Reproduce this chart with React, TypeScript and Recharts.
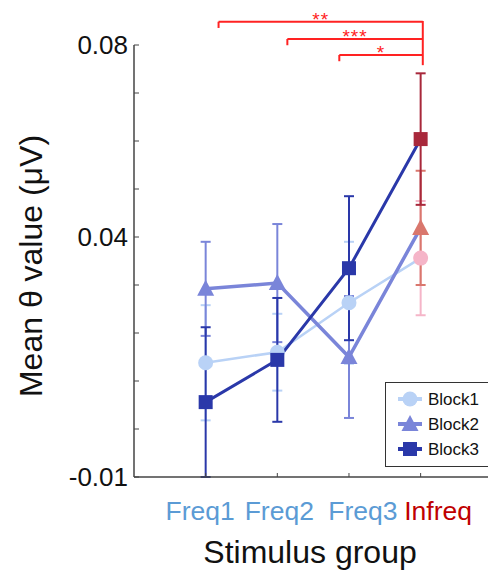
import React from 'react';
import {
  ComposedChart,
  Line,
  Scatter,
  ErrorBar,
  XAxis,
  YAxis,
  Legend,
  ReferenceLine,
  ReferenceDot,
} from 'recharts';

const categories = ['Freq1', 'Freq2', 'Freq3', 'Infreq'];
const xPositions = [1, 2, 3, 4];

const block1Mean = [0.0138, 0.016, 0.0263, 0.0356];
const block1Err = [0.012, 0.008, 0.0127, 0.0119];
const block2Mean = [0.0292, 0.0304, 0.015, 0.0419];
const block2Err = [0.0098, 0.0123, 0.0127, 0.0119];
const block3Mean = [0.0056, 0.0144, 0.0335, 0.0604];
const block3Err = [0.0156, 0.0129, 0.015, 0.0137];

const yTicks = [-0.01, 0, 0.01, 0.02, 0.03, 0.04, 0.05, 0.06, 0.07, 0.08];
const yLabeled = [-0.01, 0.04, 0.08];

// significance brackets (Infreq vs each Freq)
const bracketStarts = [1.18, 2.14, 2.865];
const bracketLevels = [0.08485, 0.08125, 0.07792];
const bracketLabels = ['**', '***', '*'];
const bracketEnd = 4.03;
const bracketTop = 0.085;
const bracketBottom = 0.0758;

const FONT = '"Liberation Sans", Arial, sans-serif';
const RED = '#ff2222';

const blocks = [
  { name: 'Block1', mean: block1Mean, err: block1Err, color: '#b9d2f6', infreq: '#f5b5c8', shape: 'circle', width: 2.5 },
  { name: 'Block2', mean: block2Mean, err: block2Err, color: '#7a85d9', infreq: '#d9776d', shape: 'triangle', width: 3.5 },
  { name: 'Block3', mean: block3Mean, err: block3Err, color: '#2a38a9', infreq: '#a8283b', shape: 'square', width: 3 },
];

const toPoints = (mean: number[], err: number[]) =>
  mean.map((y, i) => ({ x: xPositions[i], y, err: err[i] }));

function Marker({ cx, cy, shape, fill }: any) {
  if (cx == null || cy == null) return null;
  if (shape === 'circle') return <circle cx={cx} cy={cy} r={7.5} fill={fill} />;
  if (shape === 'triangle')
    return <polygon points={`${cx},${cy - 9} ${cx - 8.5},${cy + 7} ${cx + 8.5},${cy + 7}`} fill={fill} />;
  return <rect x={cx - 7} y={cy - 7} width={14} height={14} fill={fill} />;
}

const YTick = (props: any) => {
  const { x, y, payload } = props;
  const ax = x + 8;
  const v = payload.value;
  const show = yLabeled.some((t) => Math.abs(t - v) < 1e-9);
  return (
    <g>
      <line x1={ax} x2={ax + 5} y1={y} y2={y} stroke="#444" strokeWidth={1} />
      {show && (
        <text x={ax - 6} y={y} dy="0.35em" textAnchor="end" fontSize={26} fill="#111" fontFamily={FONT}>
          {v === 0.08 ? '0.08' : v === 0.04 ? '0.04' : '-0.01'}
        </text>
      )}
    </g>
  );
};

// the category labels are spread a little wider than the ticks in the original
const labelShift = [-5.5, 2, 14, 17.5];

const XTick = (props: any) => {
  const { x, y, payload } = props;
  const ay = y - 8;
  const idx = payload.value - 1;
  const label = categories[idx];
  return (
    <g>
      <line x1={x} x2={x} y1={ay} y2={ay - 4} stroke="#444" strokeWidth={1} />
      <text
        x={x + (labelShift[idx] || 0)}
        y={ay + 43}
        textAnchor="middle"
        fontSize={26.5}
        fill={label === 'Infreq' ? '#c00000' : '#5b9bd5'}
        fontFamily={FONT}
      >
        {label}
      </text>
    </g>
  );
};

const LegendBox = () => (
  <svg width={110} height={86}>
    <rect x={0.5} y={0.5} width={109} height={84} fill="#fff" stroke="#333" strokeWidth={1} />
    {blocks.map((b, i) => {
      const yy = 17 + i * 25;
      return (
        <g key={b.name}>
          <line x1={13} x2={37} y1={yy} y2={yy} stroke={b.color} strokeWidth={4} />
          <Marker cx={25} cy={yy} shape={b.shape} fill={b.color} />
          <text x={43} y={yy + 6} fontSize={17} fill="#111" fontFamily={FONT}>
            {b.name}
          </text>
        </g>
      );
    })}
  </svg>
);

export default function App() {
  return (
    <div style={{ position: 'absolute', left: 0, top: 0, width: 488, height: 574, overflow: 'hidden', background: '#fff' }}>
      <ComposedChart width={488} height={574} margin={{ top: 45, right: 0, left: 0, bottom: 0 }}>
        <XAxis
          type="number"
          dataKey="x"
          domain={[0, 4.94]}
          ticks={xPositions}
          tickSize={0}
          tickMargin={8}
          tick={<XTick />}
          height={97}
          axisLine={{ stroke: '#444', strokeWidth: 1.5 }}
          allowDataOverflow
          label={() => (
            <text x={310} y={563} textAnchor="middle" fontSize={32} fill="#111" fontFamily={FONT}>
              Stimulus group
            </text>
          )}
        />
        <YAxis
          type="number"
          domain={[-0.01, 0.08]}
          ticks={yTicks}
          tickSize={0}
          tickMargin={8}
          tick={<YTick />}
          width={134}
          axisLine={{ stroke: '#444', strokeWidth: 1.5 }}
          allowDataOverflow
          label={() => (
            <text
              transform="translate(31,266) rotate(-90)"
              textAnchor="middle"
              dy="0.35em"
              fontSize={32}
              fill="#111"
              fontFamily={FONT}
            >
              Mean θ value (μV)
            </text>
          )}
        />
        <Legend
          layout="horizontal"
          verticalAlign="middle"
          align="center"
          wrapperStyle={{ left: 385, top: 382, width: 110, height: 86 }}
          content={() => <LegendBox />}
        />

        {blocks.map((b) => {
          const pts = toPoints(b.mean, b.err);
          return [
            <Line
              key={`${b.name}-line`}
              data={pts}
              dataKey="y"
              type="linear"
              stroke={b.color}
              strokeWidth={b.width}
              dot={false}
              activeDot={false}
              legendType="none"
              isAnimationActive={false}
            />,
            <Scatter
              key={`${b.name}-freq`}
              data={pts.slice(0, 3)}
              dataKey="y"
              legendType="none"
              isAnimationActive={false}
              shape={(p: any) => <Marker cx={p.cx} cy={p.cy} shape={b.shape} fill={b.color} />}
            >
              <ErrorBar dataKey="err" direction="y" width={5} stroke={b.color} strokeWidth={2} />
            </Scatter>,
            <Scatter
              key={`${b.name}-infreq`}
              data={pts.slice(3)}
              dataKey="y"
              legendType="none"
              isAnimationActive={false}
              shape={(p: any) => <Marker cx={p.cx} cy={p.cy} shape={b.shape} fill={b.infreq} />}
            >
              <ErrorBar dataKey="err" direction="y" width={5} stroke={b.infreq} strokeWidth={2} />
            </Scatter>,
          ];
        })}

        {bracketStarts.map((s, i) => [
          <ReferenceLine
            key={`br-h-${i}`}
            segment={[
              { x: s, y: bracketLevels[i] },
              { x: bracketEnd, y: bracketLevels[i] },
            ]}
            stroke={RED}
            strokeWidth={2}
            ifOverflow="visible"
          />,
          <ReferenceLine
            key={`br-v-${i}`}
            segment={[
              { x: s, y: bracketLevels[i] },
              { x: s, y: bracketLevels[i] - 0.0013 },
            ]}
            stroke={RED}
            strokeWidth={2}
            ifOverflow="visible"
          />,
          <ReferenceDot
            key={`br-t-${i}`}
            x={(s + bracketEnd) / 2}
            y={bracketLevels[i]}
            ifOverflow="visible"
            shape={(p: any) => (
              <text x={p.cx} y={p.cy + 4} textAnchor="middle" fontSize={19} letterSpacing={1} fill={RED} fontFamily={FONT}>
                {bracketLabels[i]}
              </text>
            )}
          />,
        ])}
        <ReferenceLine
          segment={[
            { x: bracketEnd, y: bracketTop },
            { x: bracketEnd, y: bracketBottom },
          ]}
          stroke={RED}
          strokeWidth={2}
          ifOverflow="visible"
        />
      </ComposedChart>
    </div>
  );
}
